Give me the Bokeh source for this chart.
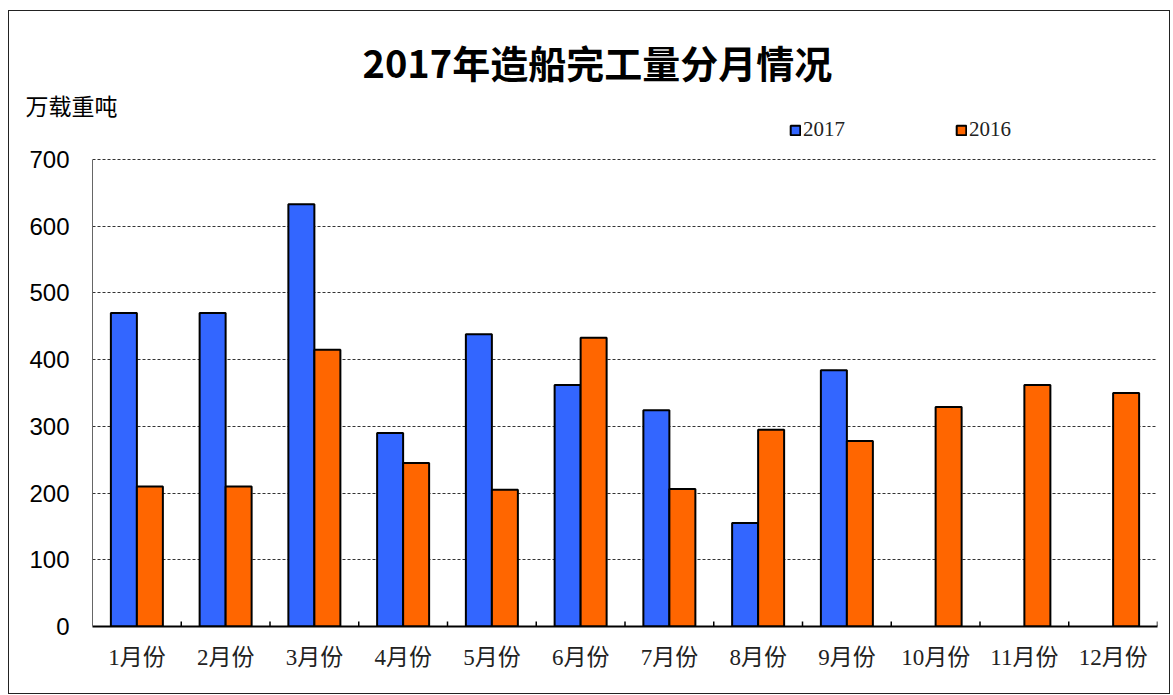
from bokeh.plotting import figure
from bokeh.models import (ColumnDataSource, FactorRange, Range1d, FixedTicker, Legend, LegendItem, Title)
from bokeh.transform import dodge
from bokeh.embed import file_html
from bokeh.resources import INLINE

months = ["1月份", "2月份", "3月份", "4月份", "5月份", "6月份",
          "7月份", "8月份", "9月份", "10月份", "11月份", "12月份"]
y2017 = [470, 470, 633, 290, 438, 362, 324, 155, 384, float("nan"), float("nan"), float("nan")]
y2016 = [210, 210, 415, 245, 205, 433, 206, 295, 278, 329, 362, 350]
y_ticks = [0, 100, 200, 300, 400, 500, 600, 700]
y_max = 700

title_text = "2017年造船完工量分月情况"
unit_text = "万载重吨"

BLUE = "#3366FF"
ORANGE = "#FF6600"
SERIF = "'Liberation Serif', 'Noto Sans CJK SC'"

# the frame extends above the top tick so the legend can sit inside it
PX_PER_UNIT = 467 / y_max
FRAME_H = 514
y_top = FRAME_H / PX_PER_UNIT

src = ColumnDataSource(dict(month=months, y2017=y2017, y2016=y2016))

p = figure(x_range=FactorRange(*months, range_padding=0), y_range=Range1d(0, y_top),
           frame_width=1065, frame_height=FRAME_H,
           min_border_left=83, min_border_right=12, min_border_top=101, min_border_bottom=67,
           output_backend="svg", toolbar_location=None, title=None,
           background_fill_color="white", border_fill_color="white")
p.outline_line_color = None
p.styles = {"border": "1px solid #222222", "margin": "10px 0 0 8px"}

bw = 0.293
r1 = p.vbar(x=dodge("month", -bw / 2, range=p.x_range), top="y2017", width=bw, source=src,
            fill_color=BLUE, line_color="black", line_width=2)
r2 = p.vbar(x=dodge("month", bw / 2, range=p.x_range), top="y2016", width=bw, source=src,
            fill_color=ORANGE, line_color="black", line_width=2)

# small inward ticks at the boundaries between month categories
bounds = list(range(1, len(months) + 1))
p.segment(x0=bounds, y0=[0] * len(bounds), x1=bounds, y1=[7.5] * len(bounds),
          line_color="black", line_width=1.5)

# y axis
ya = p.yaxis[0]
ya.ticker = FixedTicker(ticks=y_ticks)
ya.bounds = (0, y_max)
ya.major_tick_in = 0
ya.major_tick_out = 0
ya.minor_tick_in = 0
ya.minor_tick_out = 0
ya.axis_line_color = "#666666"
ya.major_label_text_font = "Liberation Sans"
ya.major_label_text_font_size = "24px"
ya.major_label_text_color = "black"
ya.major_label_standoff = 23

p.xgrid.visible = False
p.ygrid.ticker = FixedTicker(ticks=y_ticks[1:])
p.ygrid.grid_line_color = "#333333"
p.ygrid.grid_line_dash = "3 2"
p.ygrid.grid_line_width = 1

xa = p.xaxis[0]
xa.major_tick_in = 0
xa.major_tick_out = 0
xa.axis_line_color = "black"
xa.axis_line_width = 2
xa.major_label_text_font = SERIF
xa.major_label_text_font_size = "23px"
xa.major_label_text_color = "#222222"
xa.major_label_standoff = 18

legend = Legend(items=[LegendItem(label="2017", renderers=[r1]),
                       LegendItem(label="2016", renderers=[r2])],
                orientation="horizontal", location=(697, 484),
                glyph_width=12, glyph_height=12, label_standoff=2, spacing=110,
                padding=0, margin=0, border_line_color=None, background_fill_alpha=0,
                label_text_font=SERIF, label_text_font_size="21px", label_text_color="#222222")
p.add_layout(legend, "center")

p.add_layout(Title(text=unit_text, align="left", offset=-67, standoff=-19,
                   text_font="Noto Sans CJK SC", text_font_style="normal",
                   text_font_size="23px", text_color="black"), "above")
p.add_layout(Title(text=title_text, align="left", offset=270, standoff=14,
                   text_font="Noto Sans CJK SC", text_font_style="bold",
                   text_font_size="38px", text_color="black"), "above")

open("out.html", "w").write(file_html(p, INLINE))
